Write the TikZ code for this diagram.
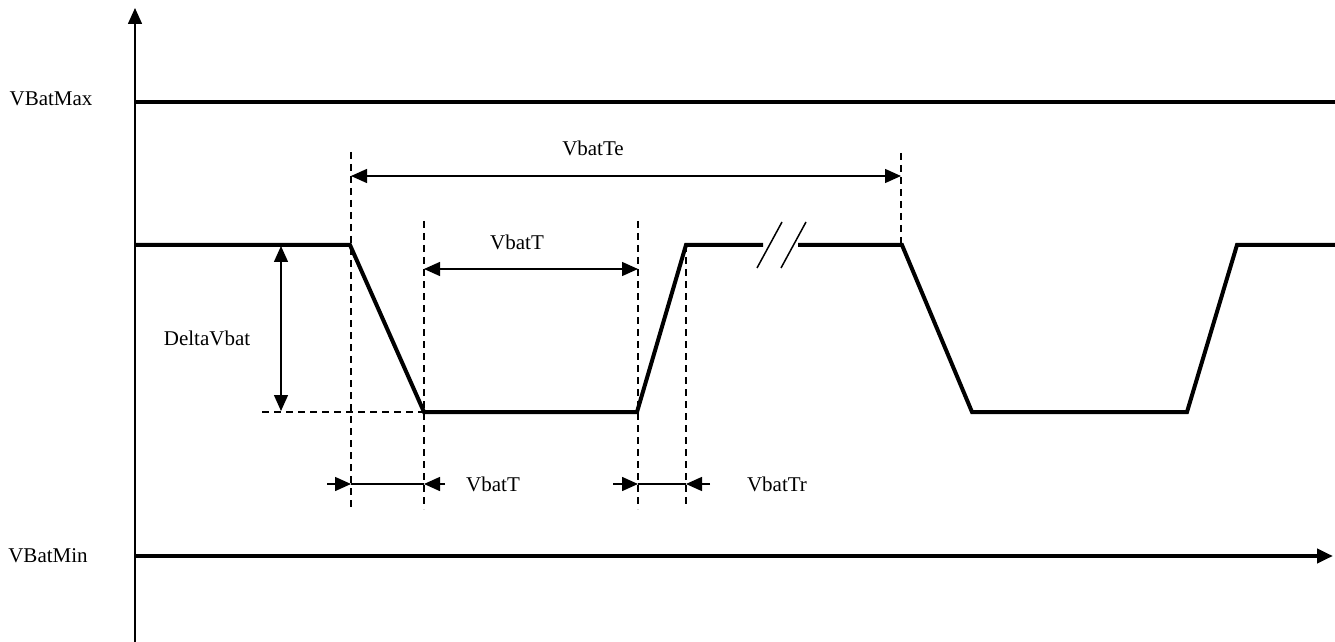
\documentclass[tikz,border=0pt]{standalone}
\usepackage{fontspec}
\setmainfont{Liberation Serif}
\usetikzlibrary{arrows.meta}

\begin{document}
\begin{tikzpicture}[x=0.5pt,y=-0.5pt,>={Triangle[length=8pt,width=7pt]},
	signal/.style={line width=2pt},
	guide/.style={dash pattern=on 3.5pt off 2.5pt,line width=0.7pt},
	dim/.style={<->,line width=0.7pt},
	lbl/.style={font=\fontsize{10.5}{12}\selectfont,inner sep=0pt}]

	\useasboundingbox (0,0) rectangle (1335,642);

	% axes and limits
	\coordinate (O) at (135,642);
	\coordinate (Ytop) at (135,8);
	\coordinate (MaxL) at (135,102);
	\coordinate (MaxR) at (1335,102);
	\coordinate (MinL) at (135,556);
	\coordinate (MinR) at (1333,556);
	\draw[->,line width=0.75pt] (O) -- (Ytop);
	\draw[signal] (MaxL) -- (MaxR);
	\draw[signal,->] (MinL) -- (MinR);
	\node[lbl] (vmax) at (51,99) {VBatMax};
	\node[lbl] (vmin) at (48,556) {VBatMin};

	% signal
	\coordinate (s0) at (135,245);
	\coordinate (f1) at (350,245);
	\coordinate (f1b) at (424,412);
	\coordinate (r1) at (637,412);
	\coordinate (r1b) at (686,245);
	\coordinate (cutA) at (763,245);
	\coordinate (cutB) at (798,245);
	\coordinate (f2) at (902,245);
	\coordinate (f2b) at (972,412);
	\coordinate (r2) at (1187,412);
	\coordinate (r2b) at (1237,245);
	\coordinate (s1) at (1335,245);
	\draw[signal,line join=miter] (s0) -- (f1) -- (f1b) -- (r1) -- (r1b) -- (cutA);
	\draw[signal,line join=miter] (cutB) -- (f2) -- (f2b) -- (r2) -- (r2b) -- (s1);

	% break marks
	\coordinate (b1) at (757,268);
	\coordinate (b2) at (782,222);
	\coordinate (b3) at (781,268);
	\coordinate (b4) at (806,222);
	\draw[line width=0.75pt] (b1) -- (b2) (b3) -- (b4);

	% guide lines
	\coordinate (g1t) at (351,152);
	\coordinate (g1b) at (351,509);
	\coordinate (g2t) at (424,221);
	\coordinate (g2b) at (424,509);
	\coordinate (g3t) at (638,221);
	\coordinate (g3b) at (638,509);
	\coordinate (g4t) at (686,245);
	\coordinate (g4b) at (686,504);
	\coordinate (g5t) at (901,153);
	\coordinate (g5b) at (901,245);
	\coordinate (lowL) at (262,412);
	\draw[guide] (g1t) -- (g1b);
	\draw[guide] (g2t) -- (g2b);
	\draw[guide] (g3t) -- (g3b);
	\draw[guide] (g4t) -- (g4b);
	\draw[guide] (g5t) -- (g5b);
	\draw[guide] (lowL) -- (f1b);

	% dimensions
	\coordinate (teL) at (351,176);
	\coordinate (teR) at (901,176);
	\draw[dim] (teL) -- (teR);
	\node[lbl] (te) at (593,148) {VbatTe};

	\coordinate (tL) at (424,269);
	\coordinate (tR) at (638,269);
	\draw[dim] (tL) -- (tR);
	\node[lbl] (t) at (517,242) {VbatT};

	\coordinate (dvT) at (281,246);
	\coordinate (dvB) at (281,411);
	\draw[dim] (dvT) -- (dvB);
	\node[lbl] (dv) at (207,338) {DeltaVbat};

	\coordinate (a1) at (327,484);
	\coordinate (a1t) at (351,484);
	\coordinate (a2) at (445,484);
	\coordinate (a2t) at (424,484);
	\draw[->,line width=0.75pt] (a1) -- (a1t);
	\draw[line width=0.75pt] (a1t) -- (a2t);
	\draw[->,line width=0.75pt] (a2) -- (a2t);
	\node[lbl] (tf) at (493,484) {VbatT};

	\coordinate (c1) at (613,484);
	\coordinate (c1t) at (638,484);
	\coordinate (c2) at (710,484);
	\coordinate (c2t) at (686,484);
	\draw[->,line width=0.75pt] (c1) -- (c1t);
	\draw[line width=0.75pt] (c1t) -- (c2t);
	\draw[->,line width=0.75pt] (c2) -- (c2t);
	\node[lbl] (tr) at (777,484) {VbatTr};

\end{tikzpicture}
\end{document}
